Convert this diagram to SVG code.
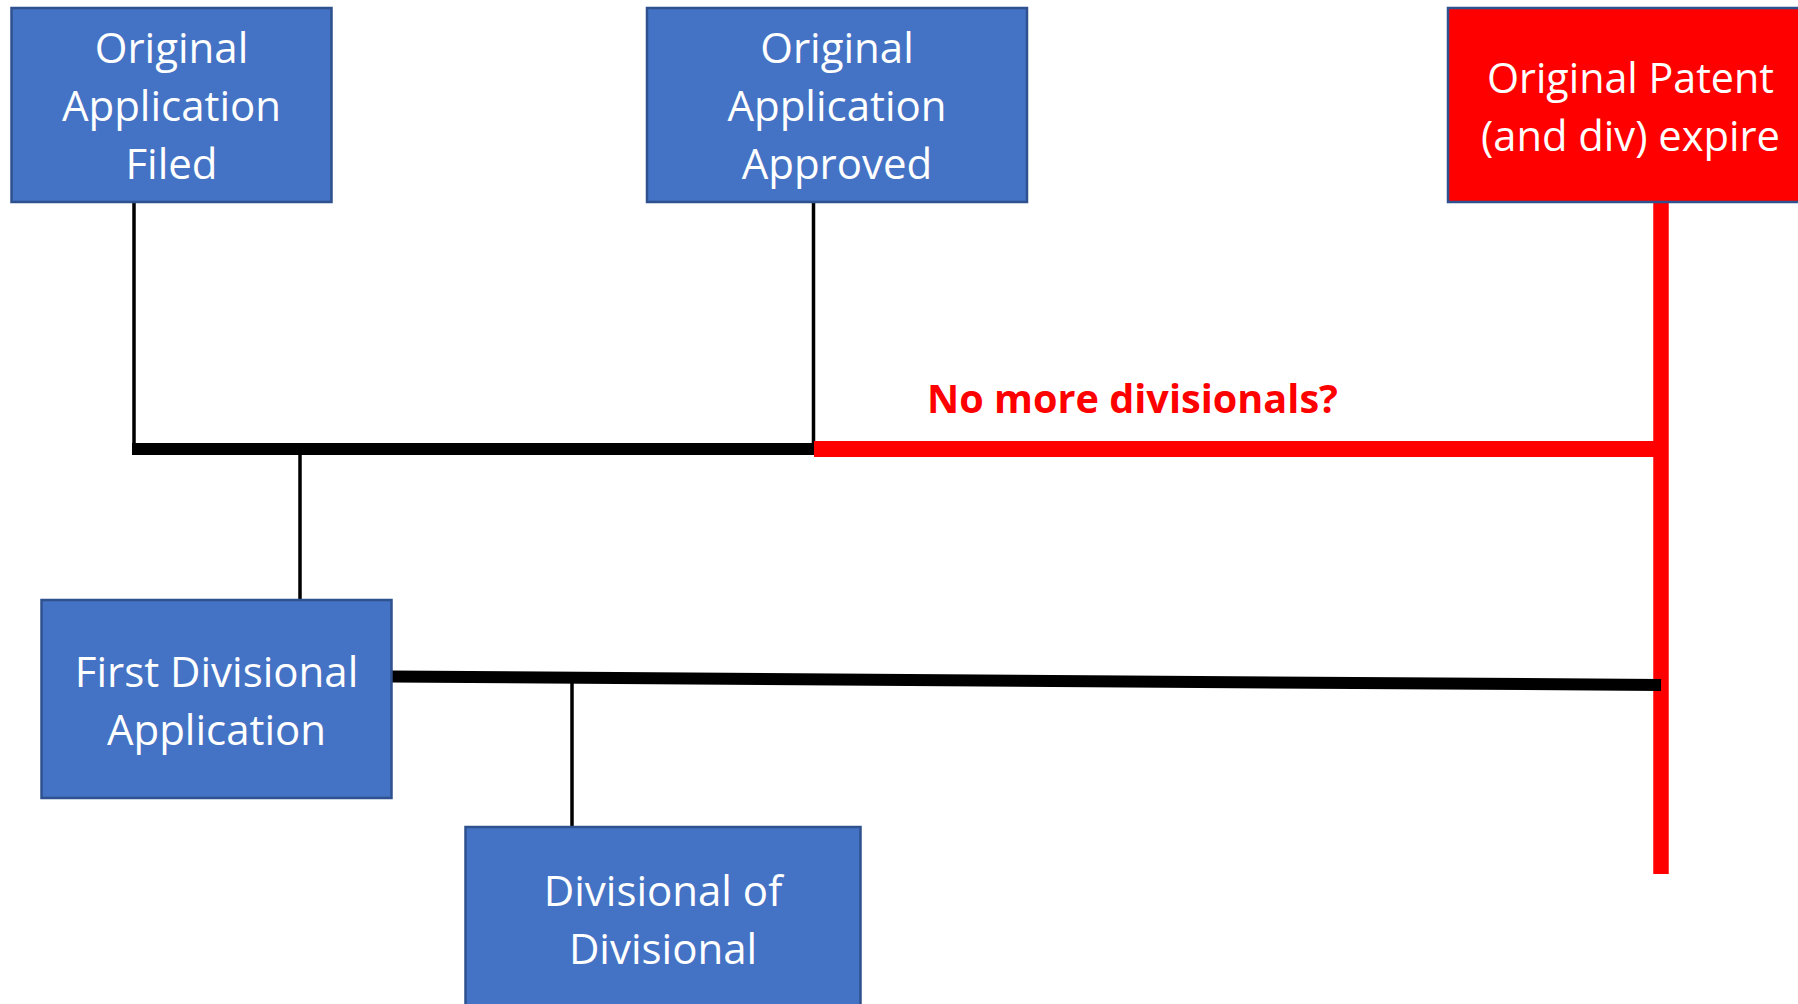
<svg xmlns="http://www.w3.org/2000/svg" width="1798" height="1004" viewBox="0 0 1798 1004">
<style>
.box{fill:#4472C4;stroke:#2F528F;stroke-width:2.5}
.red{fill:#FF0000;stroke:#2F528F;stroke-width:2.5}
.t{font-family:"Open Sans","Noto Sans","Liberation Sans",sans-serif;font-size:42px;fill:#FFFFFF;text-anchor:middle}
.lbl{font-family:"Open Sans","Noto Sans","Liberation Sans",sans-serif;font-size:40px;font-weight:bold;fill:#FF0000}
.thin{stroke:#000;stroke-width:3.5;fill:none}
.thick{stroke:#000;stroke-width:12;fill:none}
.rthick{stroke:#FF0000;stroke-width:16;fill:none}
</style>
<rect width="1798" height="1004" fill="#FFFFFF"/>
<g id="connectors">
  <line class="thin" x1="134" y1="202" x2="134" y2="449"/>
  <line class="thin" x1="813.5" y1="202" x2="813.5" y2="444"/>
  <line class="thin" x1="300" y1="449" x2="300" y2="600"/>
  <line class="thin" x1="572" y1="682" x2="572" y2="827"/>
  <line class="thick" x1="132" y1="449" x2="814" y2="449"/>
  <line class="rthick" x1="814" y1="449" x2="1661" y2="449"/>
  <line stroke="#FF0000" stroke-width="15.5" x1="1661" y1="202" x2="1661" y2="874"/>
  <line class="thick" x1="391" y1="676.5" x2="1661" y2="685"/>
</g>
<g id="node-filed">
  <rect class="box" x="11.5" y="8" width="320" height="194"/>
  <text class="t" x="171.5" y="63">Original</text>
  <text class="t" x="171.5" y="121">Application</text>
  <text class="t" x="171.5" y="179">Filed</text>
</g>
<g id="node-approved">
  <rect class="box" x="647" y="8" width="380" height="194"/>
  <text class="t" x="837" y="63">Original</text>
  <text class="t" x="837" y="121">Application</text>
  <text class="t" x="837" y="179">Approved</text>
</g>
<g id="node-expire">
  <rect class="red" x="1448" y="8" width="360" height="194"/>
  <text class="t" x="1630.5" y="92.5" textLength="287" lengthAdjust="spacingAndGlyphs">Original Patent</text>
  <text class="t" x="1630.5" y="150.5" textLength="299" lengthAdjust="spacingAndGlyphs">(and div) expire</text>
</g>
<g id="node-first-div">
  <rect class="box" x="41.5" y="600" width="350" height="198"/>
  <text class="t" x="216.5" y="686.5">First Divisional</text>
  <text class="t" x="216.5" y="744.5">Application</text>
</g>
<g id="node-div-of-div">
  <rect class="box" x="465.5" y="827" width="395" height="200"/>
  <text class="t" x="663" y="906">Divisional of</text>
  <text class="t" x="663" y="963.5">Divisional</text>
</g>
<g id="label-no-more">
  <text class="lbl" x="927" y="413" textLength="411" lengthAdjust="spacingAndGlyphs">No more divisionals?</text>
</g>
</svg>
